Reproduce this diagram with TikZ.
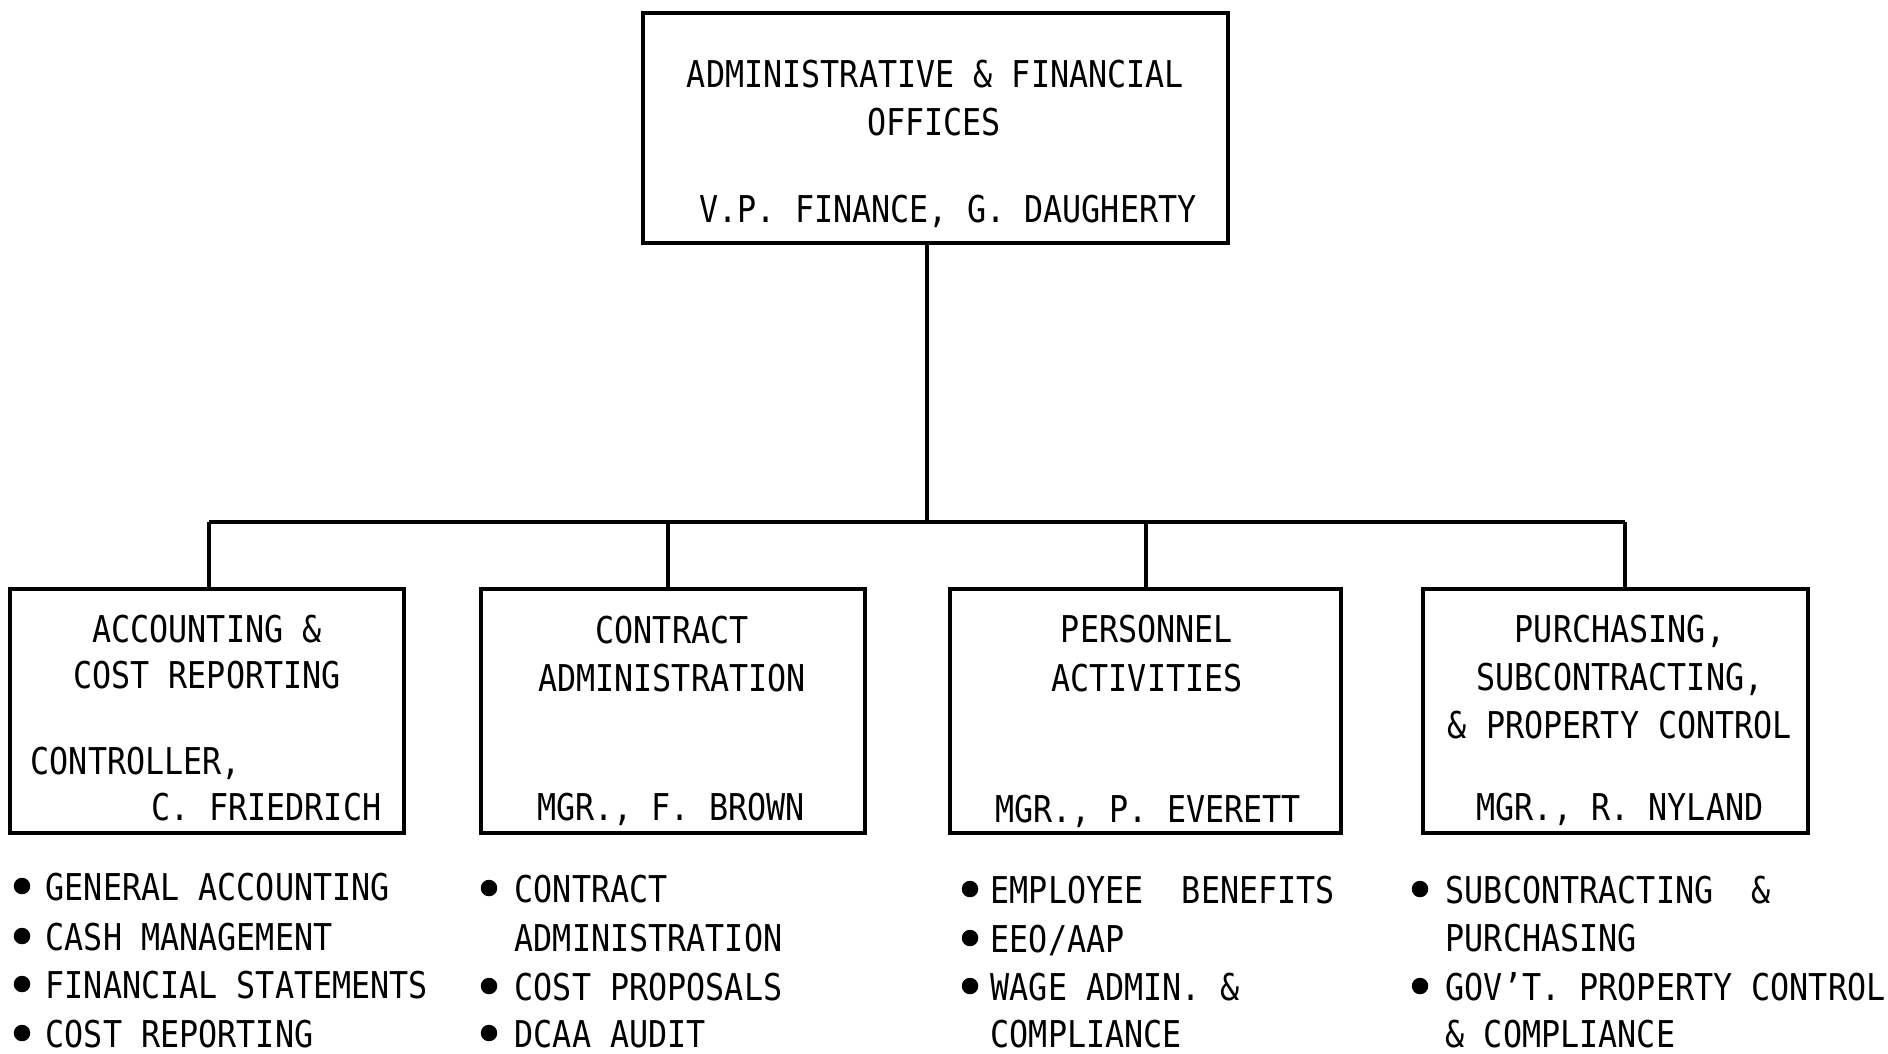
\documentclass[tikz,border=0pt]{standalone}
\usepackage{fontspec}
\newfontfamily\chartfont[FakeStretch=0.86]{DejaVu Sans Mono}

\begin{document}
\begin{tikzpicture}[
    x=0.01cm, y=-0.01cm,
    office/.style={rectangle, draw=black, line width=1.1pt, inner sep=0pt, minimum height=2.44cm},
    title/.style={inner sep=0pt, anchor=base, font=\chartfont\fontsize{10.5pt}{12pt}\selectfont},
    task/.style={title, anchor=base west},
    bullet/.style={circle, fill=black, inner sep=0pt, minimum size=0.165cm},
    link/.style={-, line width=0.9pt}
]
\useasboundingbox (0,0) rectangle (1888,1053);

% Offices
\node[office, minimum width=5.85cm, minimum height=2.30cm] (vp) at (935.5,128) {};
\node[office, minimum width=3.94cm] (acct) at (207,711) {};
\node[office, minimum width=3.84cm] (contr) at (673,711) {};
\node[office, minimum width=3.91cm] (pers) at (1145.5,711) {};
\node[office, minimum width=3.85cm] (purch) at (1615.5,711) {};

% Office titles
\node[title] (vp_t1) at (935.5,87) {ADMINISTRATIVE \& FINANCIAL};
\node[title] (vp_t2) at (934,135) {OFFICES};
\node[title] (vp_m) at (948,222) {V.P. FINANCE, G. DAUGHERTY};

\node[title] (acct_t1) at (207,642) {ACCOUNTING \&};
\node[title] (acct_t2) at (207,688) {COST REPORTING};
\node[task] (acct_m1) at (30,774) {CONTROLLER,};
\node[title, anchor=base east] (acct_m2) at (382,820) {C. FRIEDRICH};

\node[title] (contr_t1) at (672,643) {CONTRACT};
\node[title] (contr_t2) at (672,691) {ADMINISTRATION};
\node[title] (contr_m) at (671,820) {MGR., F. BROWN};

\node[title] (pers_t1) at (1147,642) {PERSONNEL};
\node[title] (pers_t2) at (1147,691) {ACTIVITIES};
\node[title] (pers_m) at (1148,822) {MGR., P. EVERETT};

\node[title] (purch_t1) at (1620,642) {PURCHASING,};
\node[title] (purch_t2) at (1620,690) {SUBCONTRACTING,};
\node[title] (purch_t3) at (1620,738) {\& PROPERTY CONTROL};
\node[title] (purch_m) at (1620,820) {MGR., R. NYLAND};

% Connectors
\coordinate (bus) at (927,522);
\coordinate (d1) at (209,522);
\coordinate (d2) at (668,522);
\coordinate (d3) at (1146,522);
\coordinate (d4) at (1625,522);
\draw[link] (bus |- vp.south) -- (bus);
\draw[link] (d1) -- (d4);
\draw[link] (d1) -- (d1 |- acct.north);
\draw[link] (d2) -- (d2 |- contr.north);
\draw[link] (d3) -- (d3 |- pers.north);
\draw[link] (d4) -- (d4 |- purch.north);

% Duties
\node[bullet] (acct_b1) at (22,886) {};
\node[task] (acct_d1) at (45,900) {GENERAL ACCOUNTING};
\node[bullet] (acct_b2) at (22,936) {};
\node[task] (acct_d2) at (45,950) {CASH MANAGEMENT};
\node[bullet] (acct_b3) at (22,984) {};
\node[task] (acct_d3) at (45,998) {FINANCIAL STATEMENTS};
\node[bullet] (acct_b4) at (22,1033) {};
\node[task] (acct_d4) at (45,1047) {COST REPORTING};

\node[bullet] (contr_b1) at (489,888) {};
\node[task] (contr_d1) at (514,902) {CONTRACT};
\node[task] (contr_d1b) at (514,951) {ADMINISTRATION};
\node[bullet] (contr_b2) at (489,986) {};
\node[task] (contr_d2) at (514,1000) {COST PROPOSALS};
\node[bullet] (contr_b3) at (489,1033) {};
\node[task] (contr_d3) at (514,1047) {DCAA AUDIT};

\node[bullet] (pers_b1) at (970,889) {};
\node[task] (pers_d1) at (990,903) {EMPLOYEE\ \ BENEFITS};
\node[bullet] (pers_b2) at (970,938) {};
\node[task] (pers_d2) at (990,952) {EEO/AAP};
\node[bullet] (pers_b3) at (970,986) {};
\node[task] (pers_d3) at (990,1000) {WAGE ADMIN. \&};
\node[task] (pers_d3b) at (990,1047) {COMPLIANCE};

\node[bullet] (purch_b1) at (1420,889) {};
\node[task] (purch_d1) at (1445,903) {SUBCONTRACTING\ \ \&};
\node[task] (purch_d1b) at (1445,951) {PURCHASING};
\node[bullet] (purch_b2) at (1420,986) {};
\node[task] (purch_d2) at (1445,1000) {GOV’T. PROPERTY CONTROL};
\node[task] (purch_d2b) at (1445,1047) {\& COMPLIANCE};

\end{tikzpicture}
\end{document}
